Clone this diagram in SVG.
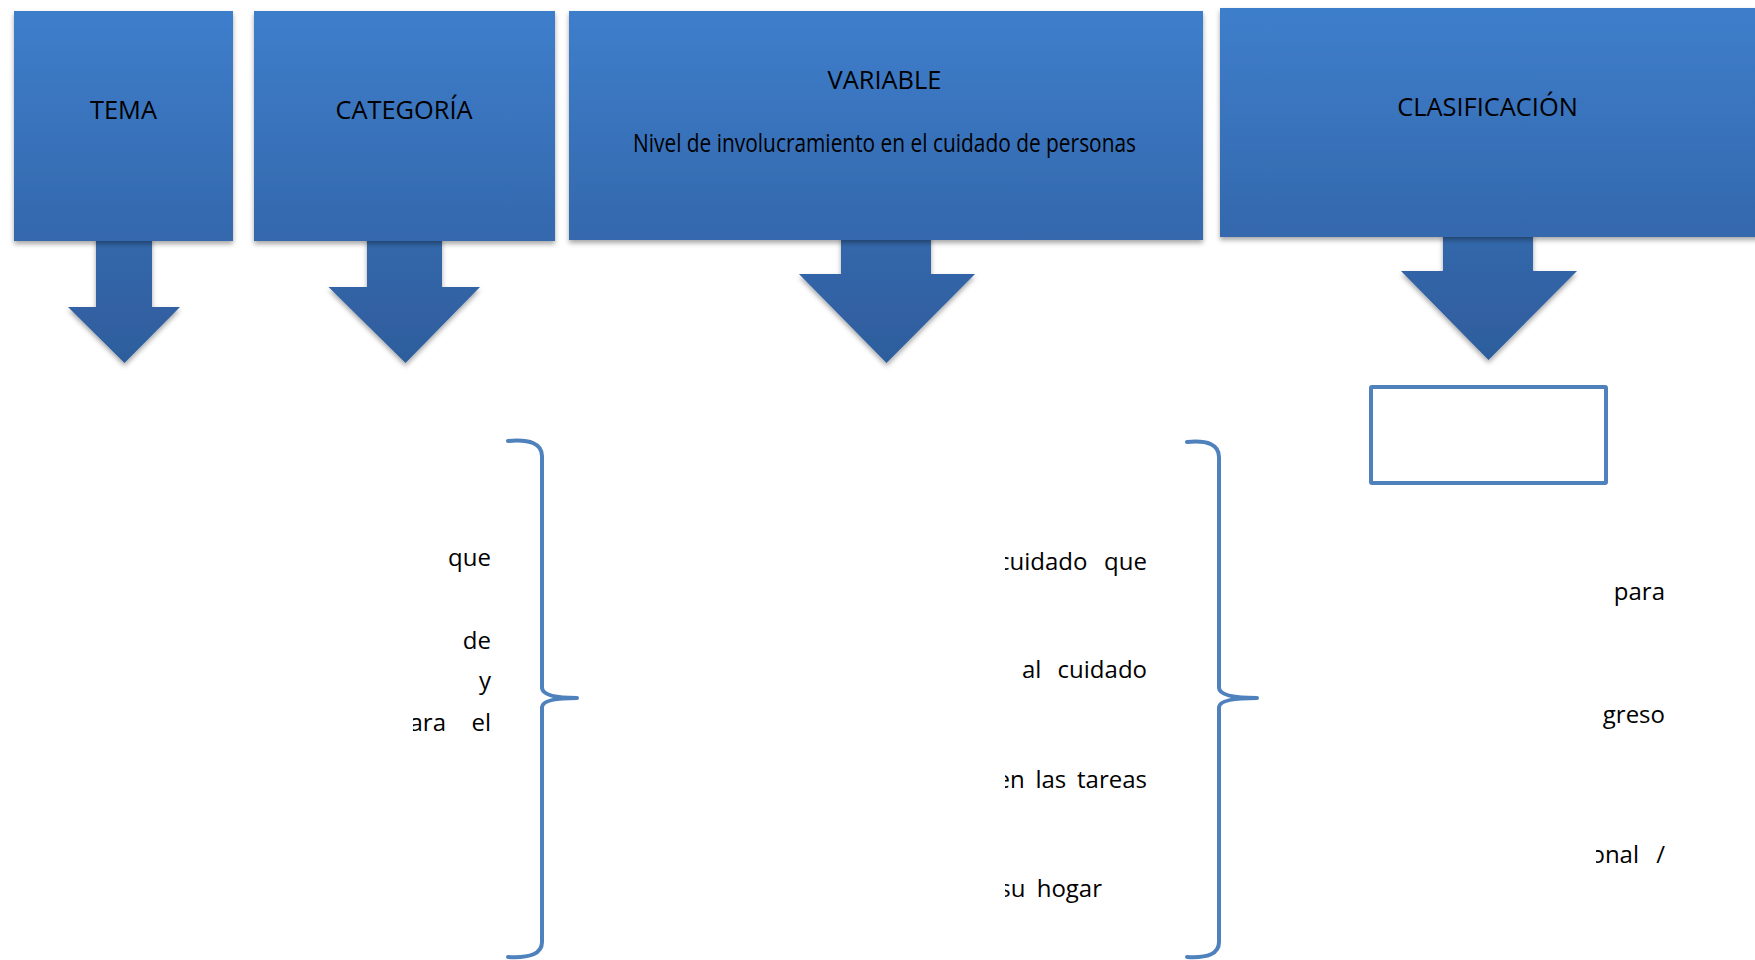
<svg xmlns="http://www.w3.org/2000/svg" width="1755" height="960" viewBox="0 0 1755 960">
  <defs>
    <linearGradient id="boxGrad" x1="0" y1="0" x2="0" y2="1">
      <stop offset="0" stop-color="#3E7ECB"/>
      <stop offset="1" stop-color="#3468AD"/>
    </linearGradient>
    <linearGradient id="arrowGrad" x1="0" y1="0" x2="0" y2="1">
      <stop offset="0" stop-color="#3468AC"/>
      <stop offset="1" stop-color="#2E5D9C"/>
    </linearGradient>
    <filter id="shadow" x="-10%" y="-10%" width="120%" height="130%">
      <feDropShadow dx="0" dy="3" stdDeviation="2.5" flood-color="#000" flood-opacity="0.35"/>
    </filter>
    <clipPath id="clip1"><rect x="413" y="380" width="200" height="580"/></clipPath>
    <clipPath id="clip2"><rect x="1005" y="380" width="200" height="580"/></clipPath>
    <clipPath id="clip3"><rect x="1596" y="380" width="159" height="580"/></clipPath>
  </defs>
  <style>
    .box { fill: url(#boxGrad); filter: url(#shadow); }
    .arrow { fill: url(#arrowGrad); filter: url(#shadow); }
    .brace { fill: none; stroke: #4F81BD; stroke-width: 4; stroke-linecap: round; stroke-linejoin: round; }
    .hdr { font-family: "Open Sans", "Liberation Sans", sans-serif; font-size: 25.4px; fill: #000; text-anchor: middle; }
    .body { font-family: "Open Sans", "Liberation Sans", sans-serif; font-size: 24px; fill: #000; text-anchor: end; }
  </style>
  <rect width="1755" height="960" fill="#fff"/>

  <g id="connectors">
    <polygon class="arrow" points="96,236 152,236 152,307 180,307 124.5,363 68,307 96,307"/>
    <polygon class="arrow" points="367,236 442,236 442,287 480,287 405.5,363 328.5,287 367,287"/>
    <polygon class="arrow" points="841,236 931,236 931,274 975,274 886.5,363 799,274 841,274"/>
    <polygon class="arrow" points="1443,233 1533,233 1533,271 1577,271 1488.5,360 1401,271 1443,271"/>
    <path class="brace" d="M508,441 Q542,438 542,456 L542,688 Q543,698 577,698 Q543,698 542,707 L542,942 Q542,959 508,957"/>
    <path class="brace" d="M1187,442 Q1219,439 1219,457 L1219,688 Q1220,698 1257,698 Q1220,698 1219,707 L1219,942 Q1219,959 1187,957"/>
  </g>

  <g id="node-tema">
    <rect class="box" x="14" y="11" width="219" height="230"/>
    <text class="hdr" x="123.5" y="119">TEMA</text>
  </g>
  <g id="node-categoria">
    <rect class="box" x="254" y="11" width="301" height="230"/>
    <text class="hdr" x="404" y="119">CATEGORÍA</text>
  </g>
  <g id="node-variable">
    <rect class="box" x="569" y="11" width="634" height="229"/>
    <text class="hdr" x="884.5" y="89">VARIABLE</text>
    <text class="hdr" x="884.5" y="152" font-size="18.5" textLength="503" lengthAdjust="spacingAndGlyphs">Nivel de involucramiento en el cuidado de personas</text>
  </g>
  <g id="node-clasificacion">
    <rect class="box" x="1220" y="8" width="545" height="229"/>
    <text class="hdr" x="1487.5" y="116">CLASIFICACIÓN</text>
  </g>
  <g id="node-empty-box">
    <rect x="1371" y="387" width="235" height="96" fill="#fff" stroke="#4F81BD" stroke-width="4" rx="1"/>
  </g>

  <g id="text-col1" clip-path="url(#clip1)">
    <text class="body" x="491" y="566">que</text>
    <text class="body" x="491" y="649">de</text>
    <text class="body" x="491" y="689">y</text>
    <text class="body" x="446" y="731">ara</text>
    <text class="body" x="491" y="731">el</text>
  </g>
  <g id="text-col2" clip-path="url(#clip2)">
    <text class="body" x="1147" y="570" word-spacing="10.5">cuidado que</text>
    <text class="body" x="1147" y="678" word-spacing="10">al cuidado</text>
    <text class="body" x="1147" y="788" word-spacing="4.5">en las tareas</text>
    <text class="body" x="1102" y="897" word-spacing="5">su hogar</text>
  </g>
  <g id="text-col3" clip-path="url(#clip3)">
    <text class="body" x="1665" y="600">para</text>
    <text class="body" x="1665" y="723">greso</text>
    <text class="body" x="1639" y="863">onal</text>
    <text class="body" x="1665" y="863">/</text>
  </g>
</svg>
